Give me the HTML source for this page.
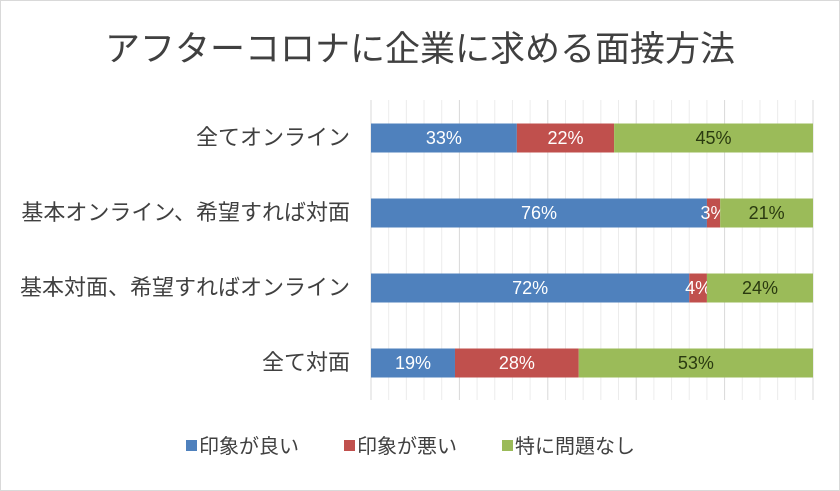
<!DOCTYPE html>
<html><head><meta charset="utf-8"><style>
body{margin:0;background:#fff;}
svg{display:block;font-family:"Liberation Sans","Noto Sans CJK JP",sans-serif;}
</style></head><body>
<svg id="c" width="840" height="491">
<rect x="0.5" y="0.5" width="839" height="490" fill="#fff" stroke="#d9d9d9"/>
<text x="420" y="61" text-anchor="middle" font-size="35" fill="#404040">アフターコロナに企業に求める面接方法</text>
<g id="grid"></g><g id="bars"></g><g id="cats"></g>
<g font-size="20" fill="#404040">
<rect x="186" y="440" width="11" height="11" fill="#4f81bd"/>
<text x="199" y="453">印象が良い</text>
<rect x="344" y="440" width="11" height="11" fill="#c0504d"/>
<text x="357" y="453">印象が悪い</text>
<rect x="502" y="440" width="11" height="11" fill="#9bbb59"/>
<text x="515" y="453">特に問題なし</text>
</g>
</svg>
<script>
const categories=["全てオンライン","基本オンライン、希望すれば対面","基本対面、希望すればオンライン","全て対面"];
const good=[33,76,72,19];
const bad=[22,3,4,28];
const none=[45,21,24,53];
const NS="http://www.w3.org/2000/svg";
const x0=371,x1=813,top0=100,bot0=400;
function xs(v){return x0+(x1-x0)*v/100;}
function mk(t,a,p){const e=document.createElementNS(NS,t);for(const k in a)e.setAttribute(k,a[k]);p.appendChild(e);return e;}
const grid=document.getElementById('grid');
for(let v=0;v<=100;v+=4){
  const l=mk('line',{x1:xs(v),x2:xs(v),y1:top0,y2:bot0,stroke:(v%20===0)?'#d9d9d9':'#ececec','stroke-width':1},grid);
  
  
}
const bars=document.getElementById('bars'),cats=document.getElementById('cats');
const band=75,bh=29,firstY=123.5;
const series=[{d:good,c:'#4f81bd',t:'#fff',n:'good'},{d:bad,c:'#c0504d',t:'#fff',n:'bad'},{d:none,c:'#9bbb59',t:'#2a3a10',n:'none'}];
categories.forEach((cat,i)=>{
  const y=firstY+i*band;
  const ct=mk('text',{x:350,y:y+bh/2+7,'text-anchor':'end','font-size':22,fill:'#404040'},cats);
  ct.textContent=cat;
  
  
  let acc=0;
  series.forEach(s=>{
    const v=s.d[i];
    const r=mk('rect',{x:xs(acc),y:y,width:xs(acc+v)-xs(acc),height:bh,fill:s.c},bars);
    
    
    const t=mk('text',{x:(xs(acc)+xs(acc+v))/2,y:y+bh/2+6,'text-anchor':'middle','font-size':18,fill:s.t},bars);
    t.textContent=v+'%';
    
    
    acc+=v;
  });
});
</script>
</body></html>
